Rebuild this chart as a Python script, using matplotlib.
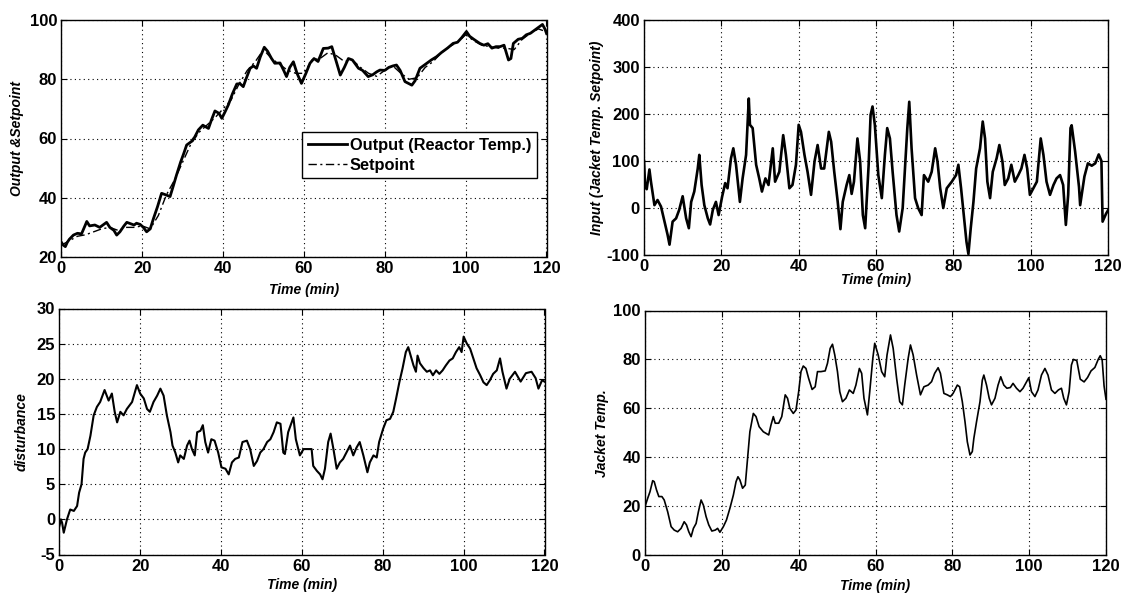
import matplotlib
matplotlib.use("Agg")
import matplotlib.pyplot as plt

# ---------------- data ----------------
# Reactor temperature (output) and its setpoint
out_time = [0, 0.5, 1, 1.5, 2, 3, 4, 5, 6, 6.3, 7, 8.3, 9.5, 10.5, 11.2, 12, 13, 13.7, 14.5, 15.5,
            16.2, 17, 18, 18.6, 19.5, 20.3, 21.1, 22, 22.8, 23.8, 24.8, 25.8, 26.9, 27.7, 28.5, 29.5,
            30.3, 31, 32.2, 33, 33.9, 35, 36.4, 37.2, 38, 39, 39.7, 40.5, 41.3, 42.3, 43.4, 44.2,
            45, 45.8, 46.7, 47.5, 48.3, 49.2, 50.2, 51, 52, 52.8, 54.1, 55, 55.7, 56.5, 57.4, 58.3,
            59.4, 60.5, 61.5, 62.5, 63.5, 64.8, 66, 66.9, 68, 69, 70, 71, 72, 73.5, 74.5, 75.9, 77,
            78, 78.8, 80, 81, 82, 82.9, 83.8, 85, 86, 86.7, 87.5, 88.7, 90, 91.5, 92.8, 94, 95.5,
            96.9, 98, 99, 100.2, 101, 102, 103.5, 104.5, 105.5, 106.5, 107.5, 108.5, 109.5, 110.6,
            111.2, 111.8, 113, 114, 115, 116, 117, 118, 119, 119.6, 120]
out_temp = [25, 24, 23.5, 25, 26, 27.4, 28, 27.8, 31, 32, 30.5, 30.8, 30, 31, 31.7, 30, 29, 27.4, 28.5, 30.5,
            31.7, 31.3, 30.8, 31.4, 31, 30, 28.5, 29.5, 33, 37, 41.5, 41, 40.4, 44, 47.7, 52,
            55, 57.8, 59, 60.5, 62.9, 64.5, 63.4, 66.5, 69.3, 68.5, 66.8, 69, 71.3, 75, 78.4, 78.5,
            77.5, 80.5, 83.7, 84.5, 83.7, 87.5, 90.8, 89.5, 87, 85.4, 85.5, 83, 80.9, 84, 85.9, 82,
            78.6, 82, 85.4, 87, 86, 90.4, 90.5, 91, 86, 81.4, 84, 87, 86.5, 83.7, 83, 80.9, 81.5,
            82.5, 83.1, 83, 84, 84.5, 84.8, 83, 79.2, 78.5, 78, 79.5, 83.7, 85, 86.5, 87.6, 89, 90.5,
            92.1, 92.5, 94, 96.1, 94.5, 93.5, 92.1, 91.5, 92, 90.5, 91, 91, 91.5, 86.5,
            87, 92.1, 93.5, 93.8, 95, 95.5, 96.5, 97.5, 98.5, 97, 95.5]

sp_time = [0, 2, 4, 6, 8, 10, 12, 14, 16, 18, 20, 22, 24, 26, 28, 30, 32, 34, 36, 38, 40, 42, 44,
           46, 48, 50, 52, 54, 56, 58, 60, 62, 64, 66, 68, 70, 72, 74, 76, 78, 80, 82, 84, 86,
           88, 90, 92, 94, 96, 98, 100, 102, 104, 106, 108, 110, 112, 114, 116, 118, 120]
sp_temp = [24, 25.5, 27, 27.5, 28.5, 29.5, 30, 29, 30, 30, 30.5, 29.5, 34, 41, 46, 52, 58, 62, 64.5,
           67, 70, 73, 78.5, 83, 86, 90, 87, 85, 83, 82, 82, 86.5, 87, 89, 88, 86, 86.5, 84, 82,
           81, 83, 84.5, 82, 80, 80.5, 84, 86, 89, 91, 92.5, 95, 93, 91.5, 91, 90.5, 90.5, 90,
           93.5, 95.5, 97, 96]

# Manipulated input: jacket temperature setpoint
u_time = [0, 0.3, 0.7, 1.4, 1.8, 2.7, 3.5, 4.4, 5.3, 6.1, 6.6, 7.4, 8.3, 9.1, 10, 10.9, 11.6, 12.2,
          13, 13.9, 14.3, 14.9, 15.6, 16.5, 17.1, 17.8, 18.6, 19.3, 20.2, 21, 21.6, 22.5, 23.1,
          23.8, 24.8, 25.5, 26.4, 27.1, 27.4, 28.1, 29, 29.8, 30.5, 31.4, 32.2, 33.3, 33.9, 35,
          36, 36.7, 37.6, 38.4, 39.3, 40, 40.6, 41.5, 42.3, 43.2, 44.1, 44.9, 45.8, 46.6, 47.8,
          48.4, 49.2, 50.1, 50.8, 51.4, 52.4, 53.1, 53.7, 54.3, 55.2, 55.9, 56.6, 57.2, 58.1,
          58.6, 59.1, 59.7, 60.6, 61.5, 62.3, 62.9, 63.6, 64.3, 65.3, 66, 66.9, 67.5, 68.1, 68.6,
          69.2, 70.1, 70.9, 71.8, 72.4, 73.5, 74.4, 75.3, 75.9, 76.6, 77.4, 78.3, 79.6, 80.7,
          81.3, 82, 82.8, 83.4, 83.9, 84.5, 85.2, 85.9, 86.9, 87.6, 88.2, 88.8, 89.5, 90.2, 91.2,
          91.9, 92.7, 93.3, 94.2, 95, 95.9, 96.8, 97.6, 98.4, 99.1, 99.8, 100.7, 101.6, 102.6,
          103.3, 104.1, 105, 105.9, 106.7, 107.6, 108.4, 109.1, 109.7, 110.3, 110.6, 111.5,
          112.5, 112.8, 113.9, 114.8, 115.8, 116.7, 117.6, 118.3, 118.6, 119.5, 120]
u_jacket_sp = [100, 45, 40, 82, 56, 6, 17, 3, -29, -57, -78, -29, -22, -4, 25, -22, -43, 13,
               35, 84, 113, 49, 6, -22, -35, -4, 13, -15, 24, 53, 42, 106, 127,
               92, 13, 63, 113, 233, 177, 170, 92, 63, 35, 63, 49, 127, 56, 77,
               155, 113, 42, 49, 92, 177, 162, 113, 77, 28, 99, 134, 84, 84, 162,
               141, 77, 13, -45, 13, 49, 70, 30, 56, 148, 99, -15, -43, 92,
               198, 216, 177, 70, 21, 113, 170, 148, 77, -15, -50, 0, 84, 170, 226,
               127, 21, 0, -15, 70, 56, 77, 127, 99, 42, 0, 42, 56, 70,
               92, 42, -22, -72, -98, -43, 13, 84, 127, 184, 148, 56, 21, 77, 106,
               134, 99, 49, 63, 92, 56, 70, 84, 113, 84, 28, 42, 56, 148,
               113, 56, 28, 49, 63, 70, 49, -36, 28, 170, 176, 120,
               45, 6, 67, 95, 90, 95, 114, 100, -29, -12, -5]

# Disturbance
d_time = [0, 0.4, 0.7, 1.1, 1.9, 2.7, 3.6, 4.4, 4.9, 5.5, 6, 6.4, 7, 7.7, 8.5, 9.3, 10.1, 11.2,
          12.2, 13, 13.7, 14.3, 15.1, 15.9, 16.7, 18, 19.2, 20, 20.9, 21.7, 22.4, 23.3, 24.2, 25,
          25.8, 26.6, 27.5, 28, 28.7, 29.4, 29.9, 30.8, 31.6, 32.2, 32.8, 33.5, 34.1, 34.9, 35.5,
          36.1, 36.8, 37.6, 38.4, 39.3, 40.1, 41.1, 41.9, 42.7, 43.5, 44.4, 45.3, 46.4, 47.2,
          48.1, 48.9, 49.7, 50.5, 51.4, 52.2, 53, 53.8, 54.7, 55.4, 55.8, 56.6, 57.9, 58.5, 59.5,
          60.4, 61.6, 62.4, 62.8, 63.7, 64.5, 65.1, 65.7, 66.5, 67.1, 67.8, 68.6, 69.4, 70.2, 71,
          71.9, 72.7, 73.5, 74.3, 75.2, 76.2, 76.8, 77.7, 78.5, 79.1, 80.1, 80.9, 81.8, 82.6,
          83.3, 84.1, 84.9, 85.7, 86.3, 86.9, 87.6, 88.2, 88.6, 89.2, 90.1, 90.9, 91.7, 92.4,
          93.2, 94, 94.8, 95.6, 96.5, 97.3, 98.1, 98.9, 99.5, 100, 100.8, 101.6, 102.4, 103.2,
          104.1, 104.9, 105.7, 106.5, 107.3, 108.2, 109, 109.6, 110.6, 111.4, 112.7, 114.1,
          115.4, 116.8, 117.8, 118.5, 119.4, 120]
d_value = [-1, 0, -0.5, -1.9, 0, 1.4, 1.2, 1.9, 3.8, 5, 8.6, 9.5, 10, 11.9, 14.8, 16, 16.7, 18.4,
           16.9, 17.9, 15.3, 13.8, 15.3, 14.8, 15.7, 16.7, 19.1, 17.9, 17.2, 15.7, 15.3, 16.7, 17.6, 18.6,
           17.6, 14.8, 12.4, 10.5, 9.5, 8.1, 9.1, 8.6, 10.5, 11.2, 10, 9.1, 12.4, 12.6, 13.4,
           11, 9.5, 11.4, 11.2, 9.5, 7.4, 7.2, 6.4, 8.1, 8.6, 8.8, 11, 11.2, 10,
           7.6, 8.3, 9.5, 10, 11, 11.4, 12.4, 13.8, 13.6, 9.5, 9.3, 12.4, 14.5, 11.4, 9.1,
           10, 10, 10, 7.6, 6.9, 6.4, 5.7, 7.2, 11, 12.2, 10, 7.2, 8.1, 8.6, 9.5,
           10.5, 9.1, 10.2, 11, 9.1, 6.7, 8.1, 9.1, 8.8, 11, 12.9, 14.1, 14.3, 15.3,
           17.2, 19.5, 21.5, 23.8, 24.5, 23.3, 21.9, 21, 23.3, 22.2, 21.5, 21, 21.2, 20.5,
           21.2, 20.7, 21.2, 21.9, 22.6, 22.9, 23.8, 24.5, 23.8, 26, 25, 24.3, 22.9, 21.5,
           20.5, 19.5, 19.1, 19.8, 20.7, 21.2, 22.9, 21, 18.6, 20, 21, 19.6,
           20.8, 21, 20.1, 18.6, 19.8, 19.6]

# Jacket temperature
tj_time = [0, 0.7, 1.3, 2, 2.4, 3, 3.6, 4.4, 5, 5.9, 6.8, 7.6, 8.5, 9.4, 10.2, 10.8, 11.4, 12,
           12.6, 13.3, 13.9, 14.6, 15.2, 15.9, 16.6, 17.4, 18.3, 18.9, 19.5, 20.4, 21.2, 22.1, 23,
           23.7, 24.2, 24.7, 25.4, 26.1, 26.7, 27.3, 28.2, 28.9, 29.7, 30.8, 32.2, 32.8, 33.4,
           33.9, 34.8, 35.6, 36.5, 37.1, 37.7, 38.6, 39.3, 40, 40.6, 41.2, 41.9, 42.6, 43.5, 44.3,
           44.9, 45.8, 46.9, 47.5, 48.2, 48.8, 49.4, 50.1, 50.7, 51.4, 52.3, 53.2, 54.2, 54.9,
           55.8, 56.4, 57, 57.9, 58.5, 59.3, 59.8, 60.7, 61.6, 62.4, 63, 63.9, 64.6, 65.5, 66.3,
           67, 67.6, 68.5, 69.1, 69.8, 70.7, 71.7, 72.6, 73.7, 74.6, 75.4, 76.3, 76.9, 77.8, 78.7,
           79.5, 80.2, 81.3, 81.9, 82.6, 83.3, 83.9, 84.6, 85.2, 85.6, 86.3, 87.2, 87.8, 88.2,
           88.9, 89.6, 90.2, 91.1, 91.9, 92.6, 93.4, 94.2, 95.1, 95.8, 96.7, 97.6, 98.4, 99.1,
           99.9, 100.6, 101.5, 102.3, 103.2, 104.1, 104.9, 105.8, 106.7, 107.6, 108.4, 109,
           109.7, 110.4, 111, 111.5, 112.4, 113.3, 114.3, 115.2, 116.1, 117.1, 118, 118.5, 119,
           119.5, 120]
tj_value = [19.8, 23.2, 25.9, 30.4, 30, 26.6, 23.9, 23.9, 22.5, 17.7, 11.6, 10.2, 9.5, 10.9, 13.6, 12.3, 9.5, 7.5,
            10.9, 12.9, 17.7, 22.5, 20.4, 15.7, 12.3, 9.8, 10.2, 10.9, 9.3, 11.6, 14.3, 19.1, 24.5,
            30, 32, 30.7, 27.3, 28.6, 39.5, 50.4, 57.9, 56.6, 52.5, 50.4, 49.1, 53.2, 56.6,
            53.9, 53.9, 56.6, 65.5, 64.1, 60, 57.9, 59.3, 66.8, 75, 77.3, 76.3, 72.2, 67.7, 68.8,
            75, 75, 75.3, 78.4, 84.5, 86.2, 81.8, 75, 66.8, 62.7, 64.1, 67.5, 66.1, 69.5,
            76.3, 74.3, 64.1, 57.3, 66.8, 80.4, 86.6, 81.8, 75, 72.9, 81.8, 90, 84.5, 72.2, 62.7,
            61.4, 69.5, 80.4, 85.9, 81.8, 73.6, 65.5, 68.8, 69.5, 70.9, 74.3, 76.6, 74.3, 66.1, 65.5,
            64.8, 66.1, 69.5, 68.8, 62.7, 54.5, 46.3, 40.9, 42.3, 47.7, 54.5, 62.7, 71.5, 73.6,
            69.5, 64.1, 61.4, 64.1, 69.5, 72.9, 69.5, 68.2, 68.5, 70.2, 68.2, 66.8, 68.2, 70.2,
            72.5, 66.8, 64.8, 67.5, 73.6, 76.3, 73.6, 67.5, 66.1, 67.5, 68.2, 64.1,
            61.4, 66.8, 77.7, 80, 79.5, 71.9, 70.8, 72.6, 75.3, 76.7, 80.1, 81.5, 79.8,
            69.1, 63.7]

x_ticks = [0, 20, 40, 60, 80, 100, 120]
x_label = "Time (min)"

# ---------------- figure ----------------
plt.rcParams["font.family"] = ["Liberation Sans", "DejaVu Sans"]
plt.rcParams["font.weight"] = "bold"
plt.rcParams["axes.unicode_minus"] = False

W, H = 1123, 596
fig = plt.figure(figsize=(W / 100, H / 100), dpi=100)


def make_axes(x0, y0, x1, y1):
    # pixel box (left, top, right, bottom) -> figure fraction
    return fig.add_axes([x0 / W, 1 - y1 / H, (x1 - x0) / W, (y1 - y0) / H])


def style(ax, yticks, ylim, ylabel, ylab_x, xlab_y):
    ax.set_xlim(0, 120)
    ax.set_ylim(*ylim)
    ax.set_xticks(x_ticks)
    ax.set_yticks(yticks)
    ax.grid(True, linestyle=(0, (1, 3)), color="black", linewidth=0.8)
    ax.tick_params(direction="in", length=4, width=0.8, top=True, right=True,
                   labelsize=12, pad=3)
    for lab in ax.get_xticklabels() + ax.get_yticklabels():
        lab.set_fontweight("bold")
    for sp in ax.spines.values():
        sp.set_linewidth(1.0)
        sp.set_color("black")
    ax.set_xlabel(x_label, fontsize=10, fontstyle="italic", fontweight="bold")
    ax.set_ylabel(ylabel, fontsize=10, fontstyle="italic", fontweight="bold")
    ax.xaxis.set_label_coords(0.5, xlab_y)
    ax.yaxis.set_label_coords(ylab_x, 0.5)


# Top left: output and setpoint
ax1 = make_axes(61.3, 20, 546.5, 257)
ax1.plot(out_time, out_temp, color="black", linewidth=2.0, label="Output (Reactor Temp.)")
ax1.plot(sp_time, sp_temp, color="black", linewidth=1.0, linestyle=(0, (6, 2.5, 1.5, 2.5)),
         label="Setpoint")
style(ax1, [20, 40, 60, 80, 100], (20, 100), "Output &Setpoint", -0.076, -0.108)
leg = ax1.legend(loc="upper right", bbox_to_anchor=(0.98, 0.527), fontsize=11.8,
                 frameon=True, fancybox=False, framealpha=1, edgecolor="black",
                 handlelength=2.4, handletextpad=0.15, borderpad=0.35, labelspacing=0.3,
                 borderaxespad=0)
leg.get_frame().set_linewidth(1.0)
for t in leg.get_texts():
    t.set_fontweight("bold")

# Top right: input
ax2 = make_axes(644, 20, 1108, 255)
ax2.plot(u_time, u_jacket_sp, color="black", linewidth=1.9)
style(ax2, [-100, 0, 100, 200, 300, 400], (-100, 400),
      "Input (Jacket Temp. Setpoint)", -0.087, -0.078)

# Bottom left: disturbance
ax3 = make_axes(59.3, 308.5, 544.5, 554.5)
ax3.plot(d_time, d_value, color="black", linewidth=1.5)
style(ax3, [-5, 0, 5, 10, 15, 20, 25, 30], (-5, 30), "disturbance", -0.063, -0.094)

# Bottom right: jacket temperature
ax4 = make_axes(645, 310.5, 1106, 555)
ax4.plot(tj_time, tj_value, color="black", linewidth=1.2)
style(ax4, [0, 20, 40, 60, 80, 100], (0, 100), "Jacket Temp.", -0.079, -0.099)

fig.savefig("out.png", dpi=100, facecolor="white")
